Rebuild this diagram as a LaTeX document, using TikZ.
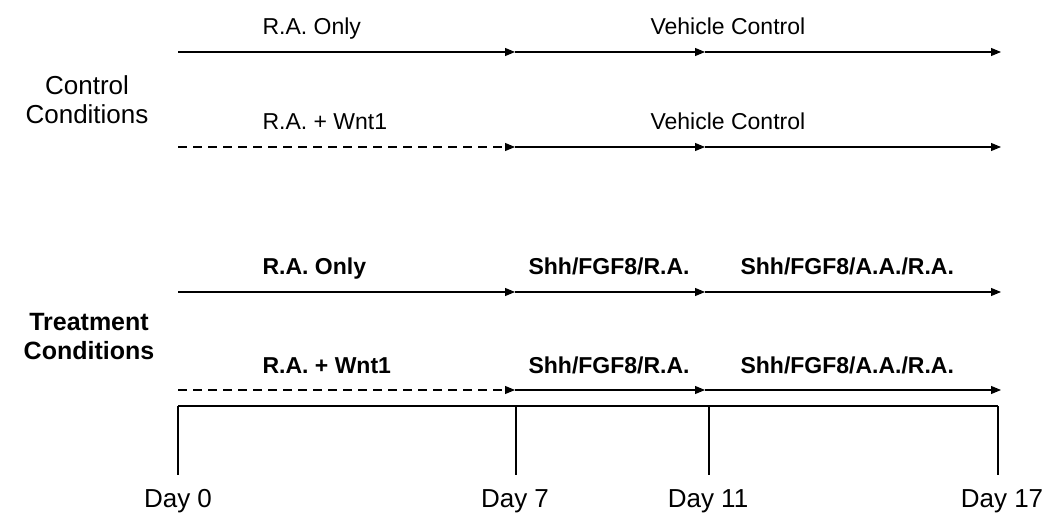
\documentclass[tikz,border=0pt]{standalone}
\usepackage{fontspec}
\setmainfont{Liberation Sans}
\usetikzlibrary{arrows.meta}

\begin{document}
\begin{tikzpicture}[x=1pt,y=-1pt,>={Triangle[length=10pt,width=8pt]},line width=1.1pt]
    \tikzstyle{phase} = [inner sep=0pt, anchor=base west, font=\fontsize{23}{27}\selectfont]
    \tikzstyle{phasebf} = [phase, font=\fontsize{23}{27}\selectfont\bfseries]
    \tikzstyle{group} = [align=center, inner sep=0pt, font=\fontsize{26}{29}\selectfont]
    \tikzstyle{groupbf} = [align=center, inner sep=0pt, font=\fontsize{25}{29}\selectfont\bfseries]
    \tikzstyle{day} = [inner sep=0pt, anchor=base, font=\fontsize{26}{30}\selectfont]
    \tikzstyle{wntline} = [dash pattern=on 9pt off 6pt]
    \useasboundingbox (0,0) rectangle (1051,518);

    % one row of arrows per condition: day 0, 7, 11, 17
    \foreach \r/\y in {a/52, b/147, c/292, d/390} {
        \coordinate (\r0) at (178,\y);
        \coordinate (\r7) at (515,\y);
        \coordinate (\r11) at (705,\y);
        \coordinate (\r17) at (1001,\y);
    }
    \foreach \r/\s in {a/solid, b/wntline, c/solid, d/wntline} {
        \draw [->, \s] (\r0) -- (\r7);
        \draw [->] (\r7) -- (\r11);
        \draw [->] (\r11) -- (\r17);
    }

    % control conditions
    \node [group] (ctrl) at (87,100) {Control\\Conditions};
    \node [phase] (ctrlRA) at (262,35) {R.A. Only};
    \node [phase] (ctrlVC) at (650,35) {Vehicle Control};
    \node [phase] (ctrlWnt) at (262,130) {R.A. + Wnt1};
    \node [phase] (ctrlWntVC) at (650,130) {Vehicle Control};

    % treatment conditions
    \node [groupbf] (treat) at (89,336.5) {Treatment\\Conditions};
    \node [phasebf] (trRA) at (262,275) {R.A. Only};
    \node [phasebf] (trRA7) at (528,275) {Shh/FGF8/R.A.};
    \node [phasebf] (trRA11) at (740,275) {Shh/FGF8/A.A./R.A.};
    \node [phasebf] (trWnt) at (262,373) {R.A. + Wnt1};
    \node [phasebf] (trWnt7) at (528,373) {Shh/FGF8/R.A.};
    \node [phasebf] (trWnt11) at (740,373) {Shh/FGF8/A.A./R.A.};

    % time axis
    \foreach \d/\x/\lx in {0/178/178, 7/516/515, 11/709/708, 17/998/1002} {
        \coordinate (top\d) at (\x,406);
        \coordinate (bot\d) at (\x,475);
        \node [day] (day\d) at (\lx,507) {Day \d};
        \draw (top\d) -- (bot\d);
    }
    \draw (top0) -- (top17);
\end{tikzpicture}
\end{document}
